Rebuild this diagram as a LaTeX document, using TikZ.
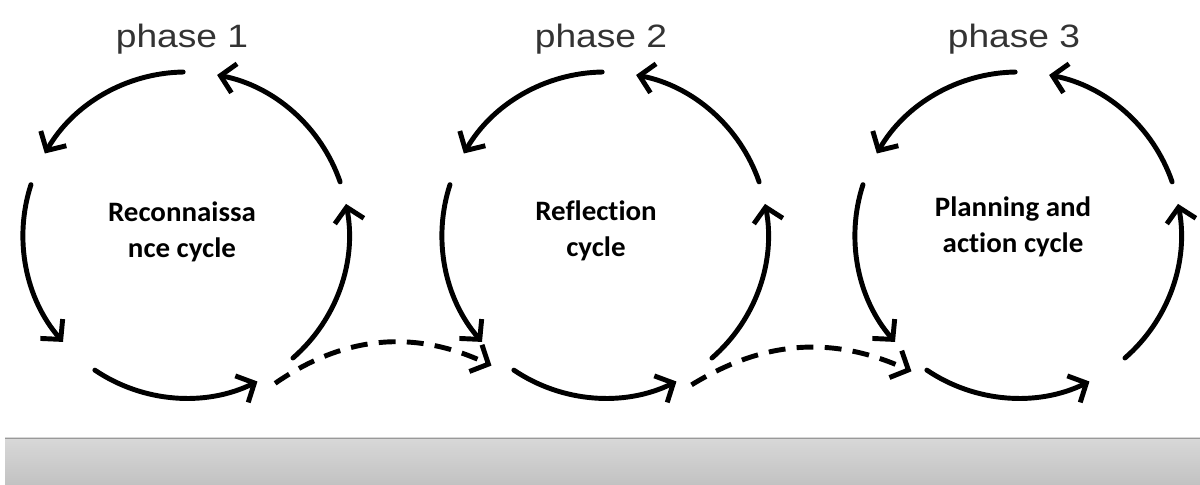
\documentclass[tikz,border=0pt]{standalone}
\usepackage{fontspec}
\usepackage{xcolor}
\usepackage{tikz}
\usetikzlibrary{arrows.meta,positioning}

\newfontfamily\phasefont[FakeStretch=1.15]{Liberation Sans}
\newfontfamily\cyclefont[FakeStretch=1.03,Ligatures=NoCommon]{Carlito}

\definecolor{phasegray}{HTML}{333333}
\definecolor{bartop}{HTML}{D8D8D8}
\definecolor{barbottom}{HTML}{C2C2C2}

\begin{document}
\begin{tikzpicture}[x=0.025cm,y=0.025cm,
    ring/.style={circle, minimum size=8.65cm, inner sep=0pt, outer sep=0pt},
    phase/.style={text=phasegray, font=\phasefont\fontsize{23pt}{26pt}\selectfont},
    cycletext/.style={align=center, font=\cyclefont\bfseries\fontsize{20pt}{26pt}\selectfont},
    cycarrow/.style={line width=3.5pt, line cap=round,
        -{Straight Barb[length=10pt,width=21pt,line width=3.5pt]}},
    dasharrow/.style={line width=3.5pt, dash pattern=on 12pt off 8pt,
        -{Straight Barb[length=10pt,width=21pt,line width=3.5pt]}}]

        % Fix the size of the picture
        \useasboundingbox (0,0) rectangle (1200,485);

        % The three cycles with their phase labels
        \foreach[count=\i] \cx/\dx/\dy/\ph/\txt in {
            186/-4/0/phase 1/Reconnaissa\\nce cycle,
            605/-9/1/phase 2/Reflection\\cycle,
            1018/-5/5/phase 3/Planning and\\action cycle}{
            \node[ring] (c\i) at (\cx, 250) {};
            \node[phase] (p\i) at (\cx-4, 446) {\ph};
            \node[cycletext] (t\i) at (\cx+\dx, 253+\dy) {\txt};
            % five arcs round each cycle
            \foreach \a/\b in {91/150, 162/221, 236/296, 311/371, 19/79}{
                \draw[cycarrow] (c\i) ++(\a:163) arc[start angle=\a, end angle=\b, radius=163];
            }
        }

        % Dashed links from one cycle to the next
        \draw[dasharrow] (c1.301) to[bend left=30] (c2.229);
        \draw[dasharrow] (c2.300) to[bend left=28] (c3.232);

        % Grey bar at the bottom
        \shade[top color=bartop, bottom color=barbottom] (5,0) rectangle (1200,47);
        \draw[gray!80, line width=0.6pt] (5,47) -- (1200,47);
    \end{tikzpicture}
\end{document}
